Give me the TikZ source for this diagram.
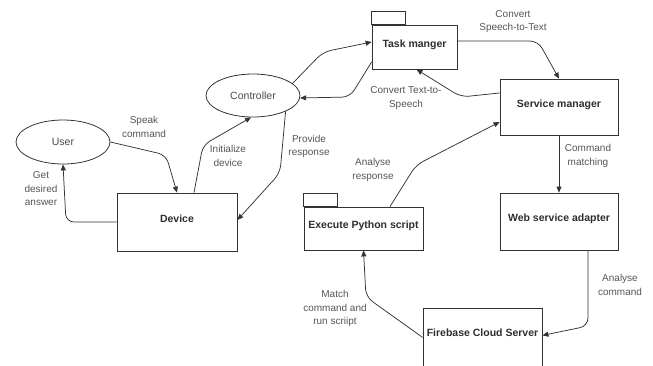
\documentclass[tikz,border=0pt]{standalone}
\usepackage{fontspec}
\setmainfont{Liberation Sans}
\usetikzlibrary{arrows.meta,shapes.geometric}
\definecolor{linec}{HTML}{333333}
\definecolor{boxtext}{HTML}{2E2E2E}
\definecolor{labtext}{HTML}{555555}
\begin{document}
\begin{tikzpicture}[x=1pt,y=-1pt,
  box/.style={draw=linec, line width=0.8pt, fill=white, inner sep=0pt,
    text=boxtext, font=\bfseries\fontsize{10.5}{12}\selectfont,
    text height=5pt, text depth=5pt},
  boxlabel/.style={text=boxtext, font=\bfseries\fontsize{10.5}{12}\selectfont},
  oval/.style={draw=linec, line width=0.8pt, ellipse, inner sep=0pt,
    text=labtext!85!black, font=\fontsize{10.5}{12}\selectfont},
  conn/.style={draw=linec, line width=0.75pt, rounded corners=8pt,
    -{Triangle[length=6pt,width=5pt]}},
  lab/.style={text=labtext, font=\fontsize{10}{13.5}\selectfont, align=center, inner sep=0pt}]
\useasboundingbox (0,0) rectangle (653,365);
\clip (0,0) rectangle (653,365);

% actors and components
\node[oval, minimum width=94pt, minimum height=44pt] (user) at (63,142) {User};
\node[oval, minimum width=94pt, minimum height=43pt] (ctrl) at (253,95.5) {Controller};
\node[box, minimum width=120pt, minimum height=58pt] (device) at (177,222) {Device};
\node[box, minimum width=85pt, minimum height=44pt] (task) at (414.5,47) {Task manger};
\draw[linec, line width=0.8pt] (task.north west) rectangle ++(34,-13);
\node[box, minimum width=118pt, minimum height=56pt] (service) at (559,107) {Service manager};
\node[box, minimum width=118pt, minimum height=57pt] (web) at (559,221.5) {Web service adapter};
\node[box, minimum width=119pt, minimum height=43pt] (exec) at (363.5,228.5) {Execute Python script};
\draw[linec, line width=0.8pt] (exec.north west) rectangle ++(34,-13);
\node[box, minimum width=119pt, minimum height=64pt, anchor=north] (fb) at (482.5,308) {};
\node[boxlabel] (fbtext) at (482.5,333) {Firebase Cloud Server};

% connectors
\draw[conn] (user.east) -- (166,155) -- (device.north);
\draw[conn] (device.west) -- (66,222) -- (user.south);
\draw[conn] ([xshift=17pt]device.north) -- (203,145) -- (ctrl.265);
\draw[conn] (ctrl.-26) -- (280,173) -- ([yshift=2pt]device.east);
\draw[conn] (ctrl.17) -- (323,52) -- ([yshift=5pt]task.west);
\draw[conn] ([yshift=-15pt]task.west) -- (350,97) -- (ctrl.-3);
\draw[conn] ([yshift=6pt]task.east) -- (538,41) -- (service.north);
\draw[conn] ([yshift=14pt]service.west) -- (461,97) -- ([xshift=2pt]task.south);
\draw[conn] ([xshift=26.5pt]exec.north) -- (416,165) -- ([yshift=-15pt]service.west);
\draw[conn] (service.south) -- (web.north);
\draw[conn] ([xshift=29pt]web.south) -- (588,326) -- ([yshift=5pt]fb.east);
\draw[conn] ([yshift=3pt]fb.west) -- (366,297) -- (exec.south);

% connector labels
\node[lab] (l1) at (144,127) {Speak\\command};
\node[lab] (l2) at (41,189) {Get\\desired\\answer};
\node[lab] (l3) at (228,156) {Initialize\\device};
\node[lab] (l4) at (309,146.5) {Provide\\response};
\node[lab] (l5) at (513,21.5) {Convert\\Speech-to-Text};
\node[lab] (l6) at (406,98) {Convert Text-to-\\Speech};
\node[lab] (l7) at (373,170) {Analyse\\response};
\node[lab] (l8) at (588,156) {Command\\matching};
\node[lab] (l9) at (620,285) {Analyse\\command};
\node[lab] (l10) at (335,308.5) {Match\\command and\\run scriipt};
\end{tikzpicture}
\end{document}
